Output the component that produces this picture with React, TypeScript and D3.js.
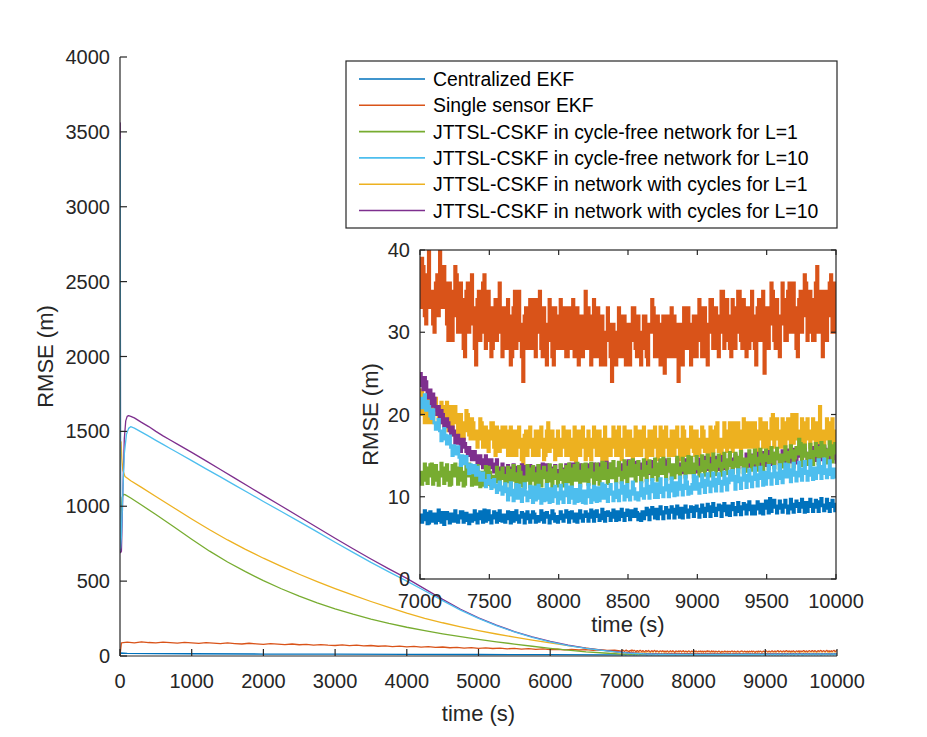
import React from 'react';
import * as d3 from 'd3';

// ---------- categories / legend ----------
const seriesNames = [
  'Centralized EKF',
  'Single sensor EKF',
  'JTTSL-CSKF in cycle-free network for L=1',
  'JTTSL-CSKF in cycle-free network for L=10',
  'JTTSL-CSKF in network with cycles for L=1',
  'JTTSL-CSKF in network with cycles for L=10',
];
const seriesColors = ['#0072BD', '#D95319', '#77AC30', '#4DBEEE', '#EDB120', '#7E2F8E'];

// ---------- ticks ----------
const mainXTicks = [0, 1000, 2000, 3000, 4000, 5000, 6000, 7000, 8000, 9000, 10000];
const mainYTicks = [0, 500, 1000, 1500, 2000, 2500, 3000, 3500, 4000];
const insetXTicks = [7000, 7500, 8000, 8500, 9000, 9500, 10000];
const insetYTicks = [0, 10, 20, 30, 40];

// ---------- early part (0 - 7000 s) : [time, RMSE] ----------
const blueEarly: [number, number][] = [
  [0, 0], [5, 20], [100, 18], [500, 16], [1000, 15], [2000, 13], [3000, 12], [4000, 11],
  [5000, 10], [6000, 9], [6900, 8],
];
const orangeEarly: [number, number][] = [
  [0, 3], [20, 88],
  [100, 92], [200, 88], [300, 95], [400, 90], [500, 87], [600, 93], [700, 89], [800, 86], [900, 91], [1000, 88],
  [1100, 84], [1200, 89], [1300, 86], [1400, 82], [1500, 87], [1600, 83], [1700, 80], [1800, 85], [1900, 81], [2000, 78],
  [2100, 82], [2200, 79], [2300, 76], [2400, 80], [2500, 75], [2600, 78], [2700, 73], [2800, 76], [2900, 72], [3000, 70],
  [3100, 74], [3200, 69], [3300, 72], [3400, 67], [3500, 70], [3600, 65], [3700, 68], [3800, 63], [3900, 66], [4000, 61],
  [4100, 64], [4200, 59], [4300, 62], [4400, 57], [4500, 60], [4600, 55], [4700, 58], [4800, 53], [4900, 56], [5000, 51],
  [5100, 54], [5200, 50], [5300, 52], [5400, 48], [5500, 51], [5600, 46], [5700, 49], [5800, 44], [5900, 47], [6000, 43],
  [6100, 45], [6200, 41], [6300, 44], [6400, 40], [6500, 42], [6600, 38], [6700, 41], [6800, 37], [6900, 39],
];
const greenEarly: [number, number][] = [
  [0, 690], [5, 800], [15, 950], [30, 1060], [50, 1080], [70, 1078], [150, 1055], [300, 1008], [500, 945],
  [750, 863], [1000, 780], [1250, 700], [1500, 628], [1750, 563], [2000, 503], [2250, 449], [2500, 400],
  [2750, 355], [3000, 315], [3250, 279], [3500, 247], [3750, 218], [4000, 192], [4250, 169], [4500, 148],
  [4750, 129], [5000, 111], [5250, 95], [5500, 80], [5750, 65], [6000, 51], [6250, 39], [6500, 28], [6750, 20],
];
const cyanEarly: [number, number][] = [
  [0, 700], [3, 3450], [8, 720], [20, 800], [40, 1100], [60, 1350], [90, 1480], [120, 1520], [149, 1531],
  [200, 1522], [300, 1495], [400, 1468], [500, 1440], [600, 1413], [700, 1386], [800, 1359], [1000, 1305],
  [1200, 1250], [1400, 1196], [1600, 1141], [1800, 1087], [2000, 1032], [2250, 965], [2500, 897], [2750, 829],
  [3000, 760], [3250, 692], [3500, 625], [3750, 562], [4000, 500], [4250, 436], [4500, 370], [4750, 306],
  [5000, 251], [5250, 203], [5500, 161], [5750, 125], [6000, 95], [6250, 70], [6500, 51], [6750, 36],
];
const yellowEarly: [number, number][] = [
  [0, 690], [5, 1400], [15, 1430], [25, 1320], [40, 1240], [70, 1198], [150, 1170], [300, 1126], [500, 1065],
  [750, 990], [1000, 915], [1250, 843], [1500, 775], [1750, 712], [2000, 653], [2250, 598], [2500, 546],
  [2750, 497], [3000, 450], [3250, 406], [3500, 364], [3750, 324], [4000, 286], [4250, 252], [4500, 222],
  [4750, 195], [5000, 170], [5250, 147], [5500, 126], [5750, 106], [6000, 87], [6250, 69], [6500, 52], [6750, 37],
];
const purpleEarly: [number, number][] = [
  [0, 700], [3, 3560], [8, 690], [20, 700], [40, 1100], [60, 1450], [80, 1570], [100, 1600], [120, 1605],
  [150, 1600], [200, 1590], [300, 1560], [400, 1532], [500, 1500], [600, 1470], [700, 1442], [800, 1415],
  [1000, 1360], [1200, 1303], [1400, 1245], [1600, 1188], [1800, 1130], [2000, 1073], [2250, 1002], [2500, 930],
  [2750, 858], [3000, 786], [3250, 716], [3500, 648], [3750, 582], [4000, 518], [4250, 448], [4500, 378],
  [4750, 312], [5000, 255], [5250, 206], [5500, 163], [5750, 127], [6000, 97], [6250, 72], [6500, 53], [6750, 38],
];

// ---------- late part (7000 - 10000 s) ----------
// samples "A" at 7000, 7020, ..., 10000 ; samples "B" at 7010, 7030, ..., 9990
const tailTimes = d3.range(7000, 10001, 10);

const blueA = [
  7.8, 7.2, 8, 6.8, 7.6, 7.9, 7.1, 7.7, 8.1, 7.3,
  7.5, 7.9, 7, 7.7, 7.4, 8.2, 7.1, 7.6, 7.8, 7.2,
  7.9, 7.3, 7.6, 8.4, 7.2, 7.7, 7.4, 8, 7.1, 7.6,
  7.8, 7.3, 7.6, 8.1, 7.2, 7.7, 7.5, 7.9, 7.3, 7.8,
  7.4, 7.9, 7.6, 7.2, 8, 7.5, 7.7, 7.3, 7.9, 7.6,
  7.3, 7.8, 7.5, 8.1, 7.4, 7.7, 7.9, 7.4, 7.8, 7.6,
  7.9, 7.5, 8.2, 7.6, 7.8, 7.3, 8.1, 7.7, 8, 7.5,
  7.8, 8.2, 7.6, 8, 7.7, 8.3, 7.8, 7.6, 8.1, 7.9,
  8.2, 7.8, 8.4, 7.9, 8.1, 8.5, 7.9, 8.2, 8, 8.4,
  8.1, 8.5, 7.9, 8.3, 8.6, 8.1, 8.4, 8.2, 8.7, 8.3,
  8.5, 8.1, 8.6, 8.3, 8.8, 8.2, 8.6, 8.4, 8.9, 8.3,
  8.6, 8.9, 8.4, 8.7, 8.2, 8.8, 8.5, 9, 8.4, 8.7,
  8.9, 8.5, 8.7, 9.1, 8.6, 8.8, 9.8, 8.7, 8.9, 8.6,
  9, 8.7, 8.9, 8.5, 9.1, 8.8, 9.2, 8.7, 8.9, 9.3,
  8.8, 9.1, 8.7, 9.4, 8.9, 9, 8.6, 9.2, 8.8, 9.1,
  8.8,
];
const blueB = [
  6.9, 8.3, 6.7, 8.2, 7.0, 6.8, 8.4, 6.9, 6.6, 8.1,
  6.8, 7.0, 8.3, 6.9, 8.2, 6.9, 8.0, 6.7, 7.0, 8.3,
  6.8, 8.2, 6.9, 7.0, 8.3, 6.8, 8.2, 6.9, 8.3, 7.0,
  6.9, 8.2, 6.8, 7.0, 8.3, 6.9, 8.1, 6.8, 8.2, 6.9,
  8.2, 6.9, 7.0, 8.3, 6.9, 8.1, 6.8, 8.3, 7.0, 6.9,
  8.2, 7.0, 8.3, 6.9, 8.2, 7.0, 6.9, 8.3, 7.0, 8.2,
  7.0, 8.4, 7.0, 8.3, 7.1, 8.5, 7.0, 8.2, 7.1, 8.4,
  7.1, 7.2, 8.5, 7.1, 8.4, 7.2, 8.3, 8.5, 7.2, 7.1,
  7.3, 8.6, 7.2, 8.7, 7.4, 7.3, 8.8, 7.3, 8.7, 7.4,
  8.8, 7.4, 8.9, 7.5, 7.4, 8.9, 7.5, 8.8, 7.6, 8.9,
  7.5, 9.0, 7.6, 9.1, 7.6, 9.2, 7.7, 9.0, 7.6, 9.2,
  7.8, 7.7, 9.2, 7.8, 9.3, 7.8, 9.2, 7.9, 9.4, 7.9,
  7.9, 9.4, 8.0, 7.9, 9.5, 8.0, 8.2, 9.6, 8.0, 9.5,
  8.1, 9.6, 8.0, 9.7, 8.1, 9.5, 8.2, 9.7, 8.1, 8.2,
  9.7, 8.2, 9.6, 8.2, 9.8, 8.3, 9.7, 8.2, 9.6, 8.3,
];
const orangeA = [
  33, 38, 31, 40, 35, 30, 37, 41, 33, 36,
  29, 35, 32, 37, 30, 34, 27, 36, 31, 33,
  26, 35, 30, 37, 29, 33, 28, 34, 31, 30,
  33, 28, 32, 27, 35, 29, 31, 24, 33, 30,
  28, 34, 30, 35, 27, 31, 29, 33, 26, 32,
  30, 28, 33, 27, 31, 34, 29, 26, 32, 30,
  28, 32, 27, 31, 33, 26, 30, 29, 31, 24,
  30, 27, 32, 28, 26, 31, 29, 33, 27, 30,
  28, 32, 26, 30, 33, 27, 31, 29, 25, 32,
  29, 27, 31, 24, 30, 33, 28, 31, 27, 32,
  29, 33, 27, 31, 30, 34, 28, 32, 30, 35,
  29, 32, 27, 33, 30, 35, 28, 31, 33, 29,
  32, 26, 34, 30, 25, 33, 31, 35, 28, 32,
  31, 34, 29, 36, 30, 33, 27, 35, 32, 36,
  30, 34, 29, 38, 31, 27, 35, 32, 37, 30,
  34,
];
const orangeB = [
  39, 32, 37, 33, 31, 36, 32, 34, 38, 31,
  36, 29, 38, 30, 36, 28, 35, 30, 37, 28,
  34, 29, 36, 28, 35, 27, 33, 29, 36, 27,
  28, 34, 26, 33, 28, 35, 27, 32, 28, 34,
  33, 27, 34, 28, 33, 26, 34, 27, 33, 28,
  34, 32, 27, 33, 28, 27, 33, 31, 27, 35,
  33, 26, 34, 27, 28, 32, 26, 33, 27, 31,
  26, 33, 27, 32, 31, 26, 33, 28, 32, 26,
  32, 27, 31, 34, 27, 32, 26, 32, 30, 27,
  33, 32, 27, 31, 26, 28, 33, 26, 32, 27,
  34, 27, 33, 26, 34, 28, 33, 27, 35, 28,
  34, 28, 34, 28, 35, 29, 34, 27, 28, 35,
  28, 33, 29, 35, 32, 28, 36, 29, 34, 27,
  36, 29, 35, 30, 36, 28, 34, 30, 37, 29,
  35, 29, 36, 30, 35, 32, 29, 36, 30, 36,
];
const greenA = [
  13, 12, 13.5, 12.5, 14, 12, 13, 12.5, 13.5, 12,
  13, 11.5, 12.5, 13.5, 12, 13, 11.5, 12.5, 13, 12,
  11.5, 12.5, 13, 12, 11.5, 13, 12.5, 11.8, 13, 12.2,
  12.6, 11.8, 13.2, 12, 12.8, 11.6, 13, 12.4, 12, 13.4,
  12, 12.8, 11.7, 13.1, 12.3, 12.9, 11.9, 13.3, 12.2, 12.7,
  12.1, 13.2, 12.4, 11.8, 13.4, 12.5, 12, 13.1, 12.6, 11.9,
  13.3, 12.4, 12.9, 12.1, 13.5, 12.6, 12.2, 13.2, 12.8, 12.3,
  13.4, 12.6, 13, 12.3, 13.6, 12.8, 12.5, 13.8, 12.7, 13.1,
  12.6, 13.7, 12.9, 13.3, 12.7, 14, 13, 12.8, 13.6, 13.2,
  13.1, 13.9, 12.9, 13.5, 13.2, 14.1, 13.3, 12.9, 14, 13.4,
  13.6, 13.2, 14.3, 13.5, 13.9, 13.3, 14.4, 13.7, 14.1, 13.6,
  14.5, 13.8, 14.2, 13.7, 14.8, 14, 13.9, 14.6, 14.2, 15,
  14.1, 14.7, 14.3, 15.1, 14.4, 14.9, 14.2, 15.3, 14.6, 14.8,
  15.1, 14.5, 15.4, 14.8, 15.6, 14.7, 15.2, 16.5, 14.9, 15.3,
  14.8, 15.5, 15, 16, 15.2, 14.9, 15.7, 15.1, 16.2, 15.3,
  15.5,
];
const greenB = [
  11.5, 14, 11.6, 13.9, 11.5, 13.8, 11.4, 14.1, 11.6, 13.9,
  11.4, 13.8, 14, 11.5, 13.9, 11.3, 13.8, 14, 11.4, 13.7,
  13.8, 11.2, 11.4, 13.7, 13.6, 11.3, 11.2, 13.6, 11.4, 13.5,
  11.2, 13.6, 11.3, 13.8, 11.1, 13.7, 11.3, 11.1, 13.8, 11.2,
  13.7, 11.2, 13.8, 11.3, 13.6, 11.2, 13.9, 11.1, 13.7, 11.3,
  13.9, 11.3, 13.7, 14, 11.4, 13.8, 14.1, 11.3, 13.9, 14.0,
  11.5, 14.1, 11.6, 14.0, 11.5, 14.2, 14.1, 11.6, 14.0, 14.3,
  11.8, 14.2, 11.7, 14.4, 11.8, 14.3, 14.5, 11.9, 14.3, 11.8,
  14.5, 12.0, 14.4, 12.1, 14.6, 12.0, 14.5, 14.7, 12.1, 14.6,
  12.2, 12.3, 14.8, 12.3, 14.7, 12.4, 14.9, 14.8, 12.4, 14.9,
  12.5, 15.0, 12.6, 15.1, 12.5, 15.2, 12.7, 15.1, 12.6, 15.3,
  12.8, 15.4, 12.9, 15.3, 13.0, 15.5, 12.9, 13.1, 15.6, 13.2,
  15.7, 13.2, 15.8, 13.3, 15.7, 13.4, 16.0, 13.5, 15.9, 13.4,
  13.6, 16.1, 13.7, 16.2, 13.6, 16.0, 17.0, 13.8, 16.3, 13.9,
  16.4, 13.9, 16.5, 14.0, 16.6, 16.2, 14.1, 16.7, 14.2, 16.5,
];
const cyanA = [
  22, 21.5, 20.5, 21, 19.5, 19, 18.5, 18, 17, 17.5,
  16.5, 16, 16.2, 15.2, 14.8, 15, 14, 13.6, 13.9, 13,
  12.6, 13, 12.2, 12, 11.6, 12, 11.2, 11.4, 10.8, 11.2,
  10.6, 11, 10.2, 10.8, 10.4, 9.8, 10.9, 10.2, 10.6, 9.9,
  10.5, 11.2, 9.8, 10.4, 10.9, 9.6, 10.3, 11, 10, 10.5,
  9.7, 10.6, 10.1, 11.2, 9.8, 10.4, 10.9, 9.5, 10.3, 10.7,
  10, 10.8, 9.6, 10.5, 11.1, 10.2, 9.8, 10.9, 10.3, 10.6,
  9.9, 10.8, 10.4, 11.3, 10, 10.7, 10.3, 11, 10.5, 10.1,
  11, 10.4, 11.3, 10.6, 10.9, 11.6, 10.5, 11.1, 10.8, 11.4,
  10.7, 11.2, 11.7, 10.9, 11.4, 11, 11.8, 11.2, 11.5, 10.9,
  11.6, 11.2, 12, 11.4, 11.8, 11.3, 12.1, 11.6, 11.9, 11.5,
  12.2, 11.7, 12, 12.5, 11.8, 12.3, 12, 12.6, 11.9, 12.4,
  12.1, 12.7, 12.2, 12.5, 13, 12.3, 12.8, 12.4, 12.9, 12.2,
  12.6, 13.1, 12.4, 12.9, 13.3, 12.6, 13, 12.5, 13.4, 12.8,
  13.1, 12.6, 13.5, 12.9, 13.2, 13.7, 12.8, 13.3, 12.7, 13.4,
  13,
];
const cyanB = [
  20.8, 22.4, 21.6, 19.8, 20.6, 18.2, 19.4, 16.8, 18.3, 16.4,
  17.4, 15, 15.2, 16.1, 13.8, 14.1, 14.9, 12.8, 12.9, 13.8,
  13.6, 12, 12.9, 11.2, 12.6, 11, 12.1, 10.5, 11.8, 10.3,
  11.6, 9.6, 11.7, 9.5, 11.5, 11.4, 9.4, 11.6, 9.5, 11.3,
  9.3, 9.6, 11.4, 9.2, 9.5, 11.5, 9.3, 9.4, 11.3, 9.2,
  11.4, 9.3, 11.5, 9.3, 11.2, 9.2, 9.4, 11.4, 9.3, 9.2,
  11.5, 9.3, 11.3, 9.4, 9.5, 11.6, 11.4, 9.4, 11.5, 9.5,
  11.6, 9.5, 11.7, 9.6, 11.5, 9.6, 11.8, 9.7, 9.6, 11.7,
  9.8, 12.0, 9.8, 12.1, 9.9, 9.9, 12.2, 10.0, 12.1, 10.0,
  12.3, 10.1, 10.2, 12.4, 10.2, 12.5, 10.3, 10.4, 12.6, 12.4,
  10.4, 12.7, 10.5, 12.8, 10.6, 12.9, 10.7, 12.8, 10.7, 13.0,
  10.8, 13.1, 13.2, 10.9, 13.3, 11.0, 13.4, 11.1, 13.3, 11.2,
  13.5, 11.3, 13.6, 11.4, 11.5, 13.8, 11.5, 13.7, 11.6, 13.9,
  11.7, 14.0, 13.9, 11.8, 14.1, 11.9, 14.2, 12.0, 14.3, 12.0,
  14.4, 12.1, 12.2, 14.5, 12.2, 14.6, 12.3, 14.4, 12.3, 12.4,
];
const yellowA = [
  20, 22, 21, 19, 22, 20, 21, 19, 21, 20,
  18, 21, 19, 20, 17, 19, 18, 20, 17, 19,
  18, 17, 19, 16, 18, 17, 19, 15, 18, 17,
  16, 18, 17, 15, 18, 16, 17, 14, 18, 16,
  17, 15, 18, 16, 17, 15, 19, 16, 17, 15,
  17, 16, 18, 15, 17, 16, 14, 18, 16, 17,
  15, 17, 16, 18, 15, 17, 16, 14, 17, 16,
  18, 15, 17, 16, 18, 15, 17, 16, 15, 18,
  16, 17, 15, 18, 16, 17, 15, 18, 16, 17,
  15, 18, 16, 17, 15, 18, 17, 16, 18, 15,
  17, 16, 18, 17, 15, 18, 16, 19, 17, 16,
  18, 16, 17, 19, 16, 18, 17, 16, 19, 17,
  16, 18, 17, 19, 16, 18, 17, 20, 17, 18,
  16, 19, 17, 18, 20, 17, 18, 16, 19, 17,
  18, 17, 19, 16, 21, 18, 17, 19, 16, 18,
  17,
];
const yellowB = [
  23, 19, 22, 21, 19, 22, 18.5, 21.5, 19, 21.5,
  20.5, 17.5, 21, 17.5, 20, 17, 20.5, 17.5, 19.5, 17,
  16, 19.5, 16, 18.5, 15.5, 19, 16, 18.5, 15.5, 18.5,
  18.5, 15, 18.5, 17.5, 15, 18.5, 14.5, 17.5, 15, 18.5,
  15, 18, 15, 18.5, 14.5, 18, 15.5, 18, 14.5, 18,
  15, 18.5, 15, 18, 14.5, 18.5, 17.5, 15, 18.5, 14.5,
  18, 14.5, 18.5, 15, 18, 14.5, 18.5, 17, 15, 18.5,
  15, 18.5, 14.5, 18.5, 15, 18, 14.5, 18.5, 17.5, 15,
  18.5, 14.5, 18, 15, 18.5, 14.5, 18.5, 15, 18.5, 15,
  18, 15, 18.5, 14.5, 18.5, 15, 15, 18.5, 15.5, 18,
  15, 18.5, 15.5, 15, 18.5, 15.5, 18.5, 15.5, 15, 19,
  15.5, 19, 15.5, 16, 19, 15.5, 19.5, 18.5, 16, 19,
  19, 15.5, 19.5, 16, 19, 15.5, 19.5, 16, 19.5, 16,
  19.5, 16, 19.5, 16, 16.5, 20, 15.5, 19.5, 16, 19.5,
  16, 19.5, 16, 19, 16.5, 16, 19.5, 16.5, 19.5, 16,
];
const purpleA = [
  25, 23, 24, 22, 21, 22, 20, 19, 20, 18.5,
  19, 17.5, 18, 16.5, 17, 16, 16.5, 15, 15.5, 14.5,
  15, 14, 14.5, 13.5, 14.5, 13.5, 14, 13, 13.5, 13,
  13.5, 12.5, 13.5, 13, 12.5, 13.5, 13, 12.5, 13.5, 13,
  12.5, 13.5, 13, 12.5, 14, 13, 12.5, 13.5, 12.8, 13.2,
  12.6, 13.4, 13, 12.5, 14, 12.8, 13.3, 12.7, 13.5, 13,
  12.8, 13.6, 13.1, 12.7, 13.5, 13.2, 12.9, 14.2, 13, 12.8,
  13.4, 13, 12.7, 13.6, 13.1, 14.4, 12.9, 13.3, 13.1, 13.6,
  13.2, 12.9, 14, 13.3, 13.1, 13.7, 13, 13.5, 14.5, 13.2,
  13.4, 13.8, 13.1, 13.6, 14, 13.3, 13.7, 13.4, 13.9, 13.5,
  13.7, 14.1, 13.5, 14.5, 13.8, 14, 13.6, 14.2, 13.9, 14.4,
  14, 14.3, 13.8, 14.6, 14.1, 14.4, 13.9, 14.2, 14.7, 14.3,
  14.5, 14.2, 14.8, 14.4, 15, 14.5, 14.7, 15.3, 14.6, 14.9,
  14.7, 15.1, 14.8, 15.4, 15, 15.2, 14.9, 15.6, 15.1, 15.3,
  15, 15.5, 15.2, 15.7, 15.1, 15.4, 15.8, 15.2, 16, 15.3,
  14,
];
const purpleB = [
  23.5, 24.5, 22, 23, 22.5, 20.5, 21, 20.5, 18.5, 19.5,
  18, 18.5, 16.5, 17.5, 15.5, 17, 15.5, 16, 14.5, 15.5,
  14, 15, 13.5, 15, 13.5, 14.5, 13, 14.5, 12.8, 14,
  12.6, 13.8, 12.5, 13.9, 13.6, 12.4, 13.9, 13.7, 12.5, 13.8,
  13.7, 12.4, 13.8, 13.7, 12.5, 13.9, 13.8, 12.4, 13.8, 12.5,
  13.8, 12.6, 13.9, 13.8, 12.5, 14, 12.6, 13.9, 12.5, 13.9,
  13.9, 12.7, 14.0, 12.6, 14.0, 12.7, 14.1, 12.8, 14.0, 12.7,
  12.6, 14.1, 13.9, 12.8, 14.2, 13.0, 12.8, 14.2, 12.9, 14.0,
  12.9, 14.2, 12.8, 14.3, 13.0, 12.9, 14.4, 13.0, 12.9, 14.3,
  13.0, 12.9, 14.5, 13.1, 12.9, 14.5, 13.2, 14.6, 13.1, 13.0,
  14.6, 13.2, 14.8, 13.3, 14.7, 13.4, 14.8, 13.3, 14.9, 13.4,
  13.5, 15.0, 13.4, 15.1, 13.5, 15.0, 13.6, 15.2, 13.7, 15.1,
  13.7, 15.3, 13.8, 15.4, 13.8, 15.5, 13.9, 14.1, 15.4, 14.0,
  15.6, 14.0, 15.7, 14.2, 15.8, 14.1, 15.9, 14.3, 15.8, 14.4,
  14.3, 16.0, 14.4, 16.2, 14.5, 16.1, 14.6, 14.4, 16.1, 14.6,
];

const FONT = '"Liberation Sans", Arial, Helvetica, sans-serif';
const AXIS = '#262626';

function interleave(a: number[], b: number[]): number[] {
  const out: number[] = [];
  a.forEach((v, i) => {
    out.push(v);
    if (i < b.length) out.push(b[i]);
  });
  return out;
}
function tailPairs(a: number[], b: number[]): [number, number][] {
  const vals = interleave(a, b);
  return tailTimes.map((t, i) => [t, vals[i]] as [number, number]);
}

export default function App() {
  const W = 927, H = 737;
  const x = d3.scaleLinear().domain([0, 10000]).range([120, 837]);
  const y = d3.scaleLinear().domain([0, 4000]).range([656, 57]);
  const xi = d3.scaleLinear().domain([7000, 10000]).range([420, 836]);
  const yi = d3.scaleLinear().domain([0, 40]).range([579, 250]);

  const lineMain = d3.line<[number, number]>().x(d => x(d[0])).y(d => y(d[1]));
  const lineInset = d3.line<[number, number]>().x(d => xi(d[0])).y(d => yi(d[1])).curve(d3.curveStepAfter);

  const blueT = tailPairs(blueA, blueB);
  const orangeT = tailPairs(orangeA, orangeB);
  const greenT = tailPairs(greenA, greenB);
  const cyanT = tailPairs(cyanA, cyanB);
  const yellowT = tailPairs(yellowA, yellowB);
  const purpleT = tailPairs(purpleA, purpleB);

  const mainSeries = [
    { c: seriesColors[0], d: blueEarly.concat(blueT) },
    { c: seriesColors[1], d: orangeEarly.concat(orangeT) },
    { c: seriesColors[2], d: greenEarly.concat(greenT) },
    { c: seriesColors[4], d: yellowEarly.concat(yellowT) },
    { c: seriesColors[5], d: purpleEarly.concat(purpleT) },
    { c: seriesColors[3], d: cyanEarly.concat(cyanT) },
  ];
  const insetSeries = [
    { c: seriesColors[0], d: blueT },
    { c: seriesColors[1], d: orangeT },
    { c: seriesColors[4], d: yellowT },
    { c: seriesColors[5], d: purpleT },
    { c: seriesColors[2], d: greenT },
    { c: seriesColors[3], d: cyanT },
  ];

  const [ix0, ix1] = xi.range();
  const iyTop = yi(40), iyBot = yi(0);

  return (
    <svg width={W} height={H} style={{ position: 'absolute', left: 0, top: 0, background: '#fff' }}
      fontFamily={FONT}>
      <defs>
        <clipPath id="mainClip">
          <rect x={x(0)} y={y(4000) - 2} width={x(10000) - x(0) + 2} height={y(0) - y(4000) + 2} />
        </clipPath>
        <clipPath id="insetClip">
          <rect x={ix0} y={iyTop} width={ix1 - ix0} height={iyBot - iyTop} />
        </clipPath>
      </defs>
      <rect x={0} y={0} width={W} height={H} fill="#fff" />

      {/* main lines */}
      <g clipPath="url(#mainClip)">
        {mainSeries.map((s, i) => (
          <path key={i} d={lineMain(s.d) || ''} fill="none" stroke={s.c} strokeWidth={1.3} strokeLinejoin="round" />
        ))}
      </g>

      {/* main axes */}
      <line x1={x(0)} x2={x(0)} y1={y(4000)} y2={y(0)} stroke={AXIS} strokeWidth={1.2} />
      <line x1={x(0)} x2={x(10000)} y1={y(0)} y2={y(0)} stroke={AXIS} strokeWidth={1.2} />
      {mainXTicks.map(t => (
        <g key={'mx' + t}>
          <line x1={x(t)} x2={x(t)} y1={y(0)} y2={y(0) - 7} stroke={AXIS} strokeWidth={1.2} />
          <text x={x(t)} y={681} fontSize={20} textAnchor="middle" dominantBaseline="central" fill={AXIS}>{t}</text>
        </g>
      ))}
      {mainYTicks.map(t => (
        <g key={'my' + t}>
          <line x1={x(0)} x2={x(0) + 7} y1={y(t)} y2={y(t)} stroke={AXIS} strokeWidth={1.2} />
          <text x={110} y={y(t)} fontSize={20} textAnchor="end" dominantBaseline="central" fill={AXIS}>{t}</text>
        </g>
      ))}
      <text x={(x(0) + x(10000)) / 2} y={713} fontSize={22} textAnchor="middle" dominantBaseline="central" fill={AXIS}>time (s)</text>
      <text transform={`translate(45,${(y(0) + y(4000)) / 2}) rotate(-90)`} fontSize={22} textAnchor="middle"
        dominantBaseline="central" fill={AXIS}>RMSE (m)</text>

      {/* legend */}
      <rect x={346} y={61} width={491} height={167} fill="#fff" stroke={AXIS} strokeWidth={1.2} />
      {seriesNames.map((n, i) => {
        const yy = 79 + i * 26.3;
        return (
          <g key={'lg' + i}>
            <line x1={359} x2={425} y1={yy} y2={yy} stroke={seriesColors[i]} strokeWidth={1.6} />
            <text x={433} y={yy} fontSize={19.4} dominantBaseline="central" fill="#000">{n}</text>
          </g>
        );
      })}

      {/* inset */}
      <rect x={ix0} y={iyTop} width={ix1 - ix0} height={iyBot - iyTop} fill="#fff" />
      <g clipPath="url(#insetClip)">
        {insetSeries.map((s, i) => (
          <path key={i} d={lineInset(s.d) || ''} fill="none" stroke={s.c} strokeWidth={2.8} strokeLinejoin="miter" />
        ))}
      </g>
      <rect x={ix0} y={iyTop} width={ix1 - ix0} height={iyBot - iyTop} fill="none" stroke={AXIS} strokeWidth={1.2} />
      {insetXTicks.map(t => (
        <g key={'ix' + t}>
          <line x1={xi(t)} x2={xi(t)} y1={iyBot} y2={iyBot - 5} stroke={AXIS} strokeWidth={1.2} />
          <line x1={xi(t)} x2={xi(t)} y1={iyTop} y2={iyTop + 5} stroke={AXIS} strokeWidth={1.2} />
          <text x={xi(t)} y={601} fontSize={20} textAnchor="middle" dominantBaseline="central" fill={AXIS}>{t}</text>
        </g>
      ))}
      {insetYTicks.map(t => (
        <g key={'iy' + t}>
          <line x1={ix0} x2={ix0 + 5} y1={yi(t)} y2={yi(t)} stroke={AXIS} strokeWidth={1.2} />
          <line x1={ix1} x2={ix1 - 5} y1={yi(t)} y2={yi(t)} stroke={AXIS} strokeWidth={1.2} />
          <text x={410} y={yi(t)} fontSize={20} textAnchor="end" dominantBaseline="central" fill={AXIS}>{t}</text>
        </g>
      ))}
      <text x={(ix0 + ix1) / 2} y={624} fontSize={22} textAnchor="middle" dominantBaseline="central" fill={AXIS}>time (s)</text>
      <text transform={`translate(370,${(iyTop + iyBot) / 2}) rotate(-90)`} fontSize={22} textAnchor="middle"
        dominantBaseline="central" fill={AXIS}>RMSE (m)</text>
    </svg>
  );
}
